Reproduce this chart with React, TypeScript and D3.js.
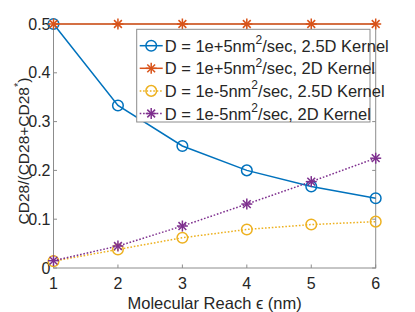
import React from 'react';
import * as d3 from 'd3';

const reach = [1, 2, 3, 4, 5, 6];
const fast25D = [0.5, 0.333, 0.25, 0.2, 0.167, 0.143];
const fast2D = [0.5, 0.5, 0.5, 0.5, 0.5, 0.5];
const slow25D = [0.014, 0.038, 0.062, 0.079, 0.089, 0.095];
const slow2D = [0.015, 0.045, 0.086, 0.131, 0.177, 0.225];
const yTicks = [0, 0.1, 0.2, 0.3, 0.4, 0.5];
const yTickLabels = ['0', '0.1', '0.2', '0.3', '0.4', '0.5'];
const legendPrefix = ['D = 1e+5nm', 'D = 1e+5nm', 'D = 1e-5nm', 'D = 1e-5nm'];
const legendSuffix = ['/sec, 2.5D Kernel', '/sec, 2D Kernel', '/sec, 2.5D Kernel', '/sec, 2D Kernel'];

const series = [
  { values: fast25D, color: '#0072BD', marker: 'circle', dash: null },
  { values: fast2D, color: '#D95319', marker: 'star', dash: null },
  { values: slow25D, color: '#EDB120', marker: 'circle', dash: '1.6,1.8' },
  { values: slow2D, color: '#7E2F8E', marker: 'star', dash: '1.6,1.8' },
];

const W = 415;
const H = 312;
const margin = { left: 53.5, right: 39.3, top: 24, bottom: 44 };
const font = '"Liberation Sans", Arial, Helvetica, sans-serif';
const textColor = '#262626';
const axisColor = '#8c8c8c';

const Marker: React.FC<{ kind: string; x: number; y: number; color: string }> = ({ kind, x, y, color }) => {
  if (kind === 'circle') {
    return <circle cx={x} cy={y} r={5.3} fill="none" stroke={color} strokeWidth={1.5} />;
  }
  const r = 5.5;
  const d = r * Math.SQRT1_2;
  return (
    <g stroke={color} strokeWidth={1.5}>
      <line x1={x - r} y1={y} x2={x + r} y2={y} />
      <line x1={x} y1={y - r} x2={x} y2={y + r} />
      <line x1={x - d} y1={y - d} x2={x + d} y2={y + d} />
      <line x1={x - d} y1={y + d} x2={x + d} y2={y - d} />
    </g>
  );
};

const App: React.FC = () => {
  const x = d3.scaleLinear().domain([1, 6]).range([margin.left, W - margin.right]);
  const y = d3.scaleLinear().domain([0, 0.5]).range([H - margin.bottom, margin.top]);
  const line = d3.line<number>().x((_, i) => x(reach[i])).y(d => y(d));

  const [x0, x1] = x.range();
  const [y0, y1] = y.range();
  const tick = 3.5;

  // legend box
  const lg = { x: 136.7, y: 29.3, w: 233.3, h: 92.7, row: 22.6 };

  return (
    <svg width={W} height={H} style={{ position: 'absolute', left: 0, top: 0 }} fontFamily={font}>
      <rect x={0} y={0} width={W} height={H} fill="#fff" />

      {/* axes box */}
      <g stroke={axisColor} strokeWidth={1} fill="none">
        <rect x={x0} y={y1} width={x1 - x0} height={y0 - y1} />
        {reach.map(v => (
          <g key={'xt' + v}>
            <line x1={x(v)} x2={x(v)} y1={y0} y2={y0 - tick} />
            <line x1={x(v)} x2={x(v)} y1={y1} y2={y1 + tick} />
          </g>
        ))}
        {yTicks.map(v => (
          <g key={'yt' + v}>
            <line x1={x0} x2={x0 + tick} y1={y(v)} y2={y(v)} />
            <line x1={x1} x2={x1 - tick} y1={y(v)} y2={y(v)} />
          </g>
        ))}
      </g>

      {/* tick labels */}
      <g fill={textColor} fontSize={16}>
        {reach.map(v => (
          <text key={'xl' + v} x={x(v)} y={y0 + 21} textAnchor="middle">{v}</text>
        ))}
        {yTicks.map((v, i) => (
          <text key={'yl' + v} x={x0 - 3} y={y(v) + 5.5} textAnchor="end">{yTickLabels[i]}</text>
        ))}
      </g>

      {/* axis labels */}
      <text x={(x0 + x1) / 2} y={309} textAnchor="middle" fontSize={16.5} fill={textColor}>
        Molecular Reach ϵ (nm)
      </text>
      <text transform={`translate(29,151) rotate(-90)`} textAnchor="middle" fontSize={15.5} fill={textColor}>
        CD28/(CD28+CD28<tspan dy={-7} fontSize={11}>*</tspan><tspan dy={7}>)</tspan>
      </text>

      {/* series */}
      {series.map((s, si) => (
        <g key={'s' + si}>
          <path d={line(s.values) ?? ''} fill="none" stroke={s.color} strokeWidth={1.5}
            strokeDasharray={s.dash ?? undefined} />
          {s.values.map((v, i) => (
            <Marker key={i} kind={s.marker} x={x(reach[i])} y={y(v)} color={s.color} />
          ))}
        </g>
      ))}

      {/* legend */}
      <rect x={lg.x} y={lg.y} width={lg.w} height={lg.h} fill="#fff" stroke={axisColor} strokeWidth={1} />
      {series.map((s, i) => {
        const cy = lg.y + 16.4 + i * lg.row;
        return (
          <g key={'lg' + i}>
            <line x1={lg.x + 3} x2={lg.x + 26} y1={cy} y2={cy} stroke={s.color} strokeWidth={1.5}
              strokeDasharray={s.dash ?? undefined} />
            <Marker kind={s.marker} x={lg.x + 14.5} y={cy} color={s.color} />
            <text x={lg.x + 28} y={cy + 6} fontSize={16.5} fill={textColor}>
              {legendPrefix[i]}<tspan dy={-7.5} fontSize={12}>2</tspan><tspan dy={7.5}>{legendSuffix[i]}</tspan>
            </text>
          </g>
        );
      })}
    </svg>
  );
};

export default App;
